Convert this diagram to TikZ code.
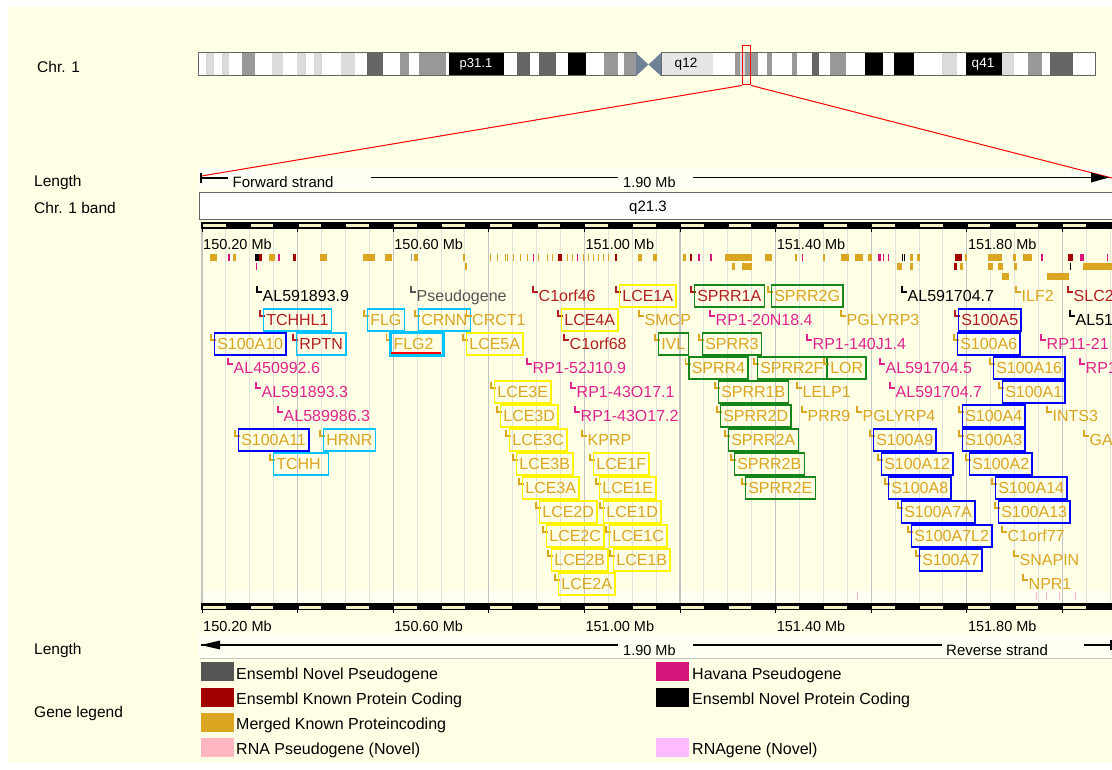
\documentclass[tikz,border=0pt]{standalone}
\usepackage{fontspec}
\setmainfont{Liberation Sans}
\usetikzlibrary{calc}
\definecolor{bgy}{HTML}{FFFFE6}
\definecolor{bgl}{HTML}{FFFFF3}
\definecolor{cgold}{HTML}{DAA520}
\definecolor{cdred}{HTML}{A00000}
\definecolor{cmag}{HTML}{D6157B}
\definecolor{tgold}{HTML}{DAA520}
\definecolor{tred}{HTML}{B01E1E}
\definecolor{tmag}{HTML}{E0248C}
\definecolor{tgray}{HTML}{555555}
\definecolor{boxblue}{HTML}{0000FF}
\definecolor{boxcyan}{HTML}{00C4FF}
\definecolor{boxyel}{HTML}{FFF500}
\definecolor{boxgrn}{HTML}{16861A}
\definecolor{cream}{HTML}{F6F0C6}
\definecolor{lgr}{HTML}{DCDCDC}
\definecolor{lgq}{HTML}{E6E6E6}
\definecolor{gr}{HTML}{999999}
\definecolor{dgr}{HTML}{666666}
\definecolor{slate}{HTML}{6E8196}
\definecolor{cpink}{HTML}{FFB6C1}
\definecolor{clav}{HTML}{FFBBFF}
\definecolor{cnov}{HTML}{555555}
\definecolor{gminor}{HTML}{E2E2DA}
\definecolor{gmajor}{HTML}{C4C4C4}
\newcommand\myfs[1]{\fontsize{#1}{#1}\selectfont}
\newcommand\gn[6]{%
  \pgfmathsetmacro\gy{296+24*#3}%
  \draw[#5, line width=1.2pt] (#2,\gy-10) -- (#2,\gy-4) -- (#2+5,\gy-4);%
  \node[glab, text=#5, #6] (#1) at (#2+2.5,\gy) {#4};%
}
\newcommand\ft[4]{\fill[#4] (#1,{254+9.5*#3}) rectangle (#2,{261+9.5*#3});}
\begin{document}
\begin{tikzpicture}[x=1pt,y=-1pt,
  glab/.style={anchor=west, inner xsep=3pt, inner ysep=0pt, text height=11pt, text depth=0pt, minimum height=22pt, font=\myfs{16}},
  bxb/.style={draw=boxblue, line width=1.5pt},
  bxc/.style={draw=boxcyan, line width=1.5pt},
  bxy/.style={draw=boxyel, line width=1.7pt},
  bxg/.style={draw=boxgrn, line width=1.5pt},
  lbl/.style={anchor=base west, inner sep=0pt, font=\myfs{15.5}},
  rul/.style={anchor=base west, inner sep=0pt, font=\myfs{14.5}},
  leg/.style={anchor=base west, inner sep=0pt, font=\myfs{16}},
  sw/.style={anchor=north west, inner sep=0pt, minimum width=33pt, minimum height=19pt}]
\useasboundingbox (0,0) rectangle (1112,770);
\clip (0,0) rectangle (1112,770);
% backgrounds
\fill[white] (0,0) rectangle (1112,770);
\fill[bgy] (8,7) rectangle (1112,763);
\fill[bgl] (198,168) rectangle (1112,191);
\fill[bgl] (198,633) rectangle (1112,658);
\fill[bgl] (202,591) rectangle (1112,602);
% chromosome ideogram
\foreach \xa/\xb/\xc in {198/206/white,206/214/lgr,214/222/white,222/229/lgr,229/242/white,242/255/gr,255/272/white,272/283/lgr,283/297/white,297/306/lgr,306/314/white,314/322/lgr,322/341/white,341/355/lgr,355/367/white,367/383/dgr,383/400/white,400/409/gr,409/419/white,419/446/gr,446/449/white,449/504/black,504/517/white,517/530/dgr,530/539/white,539/556/dgr,556/568/white,568/586/black,586/604/white,604/618/gr,618/624/white,624/636/gr,
661/713/lgq,713/735/white,735/740/gr,740/745/lgr,745/758/gr,758/767/white,767/772/gr,772/792/white,792/797/gr,797/812/white,812/819/dgr,819/830/white,830/846/gr,846/865/white,865/883/black,883/894/white,894/914/black,914/942/white,942/957/lgr,957/966/white,966/1002/black,1002/1014/lgr,1014/1028/white,1028/1042/gr,1042/1050/white,1050/1073/dgr,1073/1095/white}
  {\fill[\xc] (\xa,53) rectangle (\xb,76);}
\draw[dgr, line width=1pt] (198,53) rectangle (636,76);
\draw[dgr, line width=1pt] (661,53) rectangle (1095,76);
\fill[slate] (636,53) -- (648.5,64.5) -- (661,53) -- (661,76) -- (648.5,64.5) -- (636,76) -- cycle;
\node[white, font=\myfs{13}, inner sep=0pt] (p311) at (476,64.5) {p31.1};
\node[black, font=\myfs{13.5}, inner sep=0pt] (q12) at (686,64.5) {q12};
\node[white, font=\myfs{13.5}, inner sep=0pt] (q41) at (983,64.5) {q41};
\node[draw=red, line width=1pt, minimum width=8.5pt, minimum height=39pt, inner sep=0pt] (sel) at (746.5,65.5) {};
\coordinate (lenL) at (201.5,176);
\coordinate (lenR) at (1112,178);
\draw[red, line width=1pt] (sel.south west) -- (lenL);
\draw[red, line width=1pt] (sel.south east) -- (lenR);
% left labels
\node[lbl] (lchr) at (37,73) {Chr. 1};
\node[lbl] (llen) at (34,187) {Length};
\node[lbl] (lband) at (34,214) {Chr. 1 band};
\node[lbl] (llen2) at (34,654) {Length};
\node[lbl] (lleg) at (34,717) {Gene legend};
% top length bar
\draw[line width=1.2pt] (201,173) -- (201,183);
\draw[line width=1.2pt] (201,178) -- (228,178);
\node[anchor=base west, inner sep=0pt, font=\myfs{15}] (fwd) at (232.5,188) {Forward strand};
\draw[line width=1.2pt] (371,177.5) -- (618,177.5);
\node[anchor=base west, inner sep=0pt, font=\myfs{14.5}] (len1) at (623,188) {1.90 Mb};
\draw[line width=1.2pt] (693,177.5) -- (1094,177.5);
\fill (1091,172.5) -- (1109,177.5) -- (1091,182.5) -- cycle;
% band box
\node[draw=dgr, line width=1pt, fill=white, anchor=north west, minimum width=913pt, minimum height=27pt, inner sep=0pt] (band) at (199,192) {};
\node[font=\myfs{15}, inner sep=0pt] (q213) at (648,208) {q21.3};
% grid lines
\foreach \i in {0,...,38} {\draw[gminor, line width=1pt] ({202+\i*23.9},229) -- ({202+\i*23.9},603);}
\foreach \i in {0,4,...,36} {\draw[gmajor, line width=1.1pt] ({202+\i*23.9},229) -- ({202+\i*23.9},603);}
% top ruler
\fill[black] (201,222) rectangle (1112,229);
\foreach \i in {0,2,...,36} {\fill[cream] ({202+\i*23.9+1},223.6) rectangle ({202+(\i+1)*23.9-0.3},226.8);}
\foreach \i in {0,4,...,36} {\draw[line width=1pt] ({202+\i*23.9},229) -- ({202+\i*23.9},232);}
% bottom ruler
\draw[line width=0.8pt] (201,603.4) -- (1112,603.4);
\fill[black] (201,604) rectangle (1112,610);
\foreach \i in {0,2,...,36} {\fill[cream] ({202+\i*23.9+1},605.5) rectangle ({202+(\i+1)*23.9-0.3},608.5);}
\foreach \i in {0,4,...,36} {\draw[line width=1pt] ({202+\i*23.9},610) -- ({202+\i*23.9},613);}
% ruler labels
\foreach \k/\t in {0/150.20,1/150.60,2/151.00,3/151.40,4/151.80} {
  \node[rul] (rt\k) at ({203+\k*191.2},250) {\t\ Mb};
  \node[rul] (rb\k) at ({203+\k*191.2},631) {\t\ Mb};
}
% features row 0
\foreach \xa/\xb in {210/217,233/236,269/275,320/327,363/375,385/392,414/418,463/465,490/491,497/498,505/506,507/508,513/514,520/521,527/528,538/539,547/548,552/553,567/568,572/573,583/584,588/589,593/594,598/599,603/604,608/609,638/642,653/657,683/686,725/752,765/772,795/797,823/825,841/849,855/863,868/872,910/913,917/920,965/967,988/1002,1013/1016,1023/1032} {\ft{\xa}{\xb}{0}{cgold}}
\foreach \xa/\xb in {228/230,278/280,533/534,577/578,698/700,710/712,802/803,878/881,883/884,888/889,1041/1043,1080/1084,1107/1108} {\ft{\xa}{\xb}{0}{cmag}}
\foreach \xa/\xb in {259/262,293/296,558/562,615/617,690/692,955/962,1068/1073} {\ft{\xa}{\xb}{0}{cdred}}
\foreach \xa/\xb in {255/259,902/903,904/905} {\ft{\xa}{\xb}{0}{black}}
\ft{411}{412}{0}{gr}
% features row 1
\foreach \xa/\xb in {465/467,732/735,742/752,897/902,910/913,960/963,988/993,998/1003,1014/1017,1083/1112} {\ft{\xa}{\xb}{1}{cgold}}
\ft{256}{257}{1}{cmag}
\ft{954}{957}{1}{cdred}
\ft{1070}{1071}{1}{black}
% features row 2
\foreach \xa/\xb in {1002/1009,1047/1069} {\ft{\xa}{\xb}{2}{cgold}}
% small pink marks
\foreach \xa in {857,1036,1046,1059,1075} {\fill[cpink] (\xa,592) rectangle (\xa+1,600);}
% genes
\gn{al5918939}{257}{0}{AL591893.9}{black}{}
\gn{pseudo}{411}{0}{Pseudogene}{tgray}{}
\gn{c1orf46}{533}{0}{C1orf46}{tred}{}
\gn{lce1a}{616}{0}{LCE1A}{tred}{bxy}
\gn{sprr1a}{691}{0}{SPRR1A}{tred}{bxg}
\gn{sprr2g}{768}{0}{SPRR2G}{tgold}{bxg}
\gn{al5917047}{902}{0}{AL591704.7}{black}{}
\gn{ilf2}{1016}{0}{ILF2}{tgold}{}
\gn{slc2}{1068}{0}{SLC2}{tred}{}
\gn{tchhl1}{260}{1}{TCHHL1}{tred}{bxc}
\gn{flg}{364}{1}{FLG}{tgold}{bxc}
\gn{crnn}{415}{1}{CRNN}{tgold}{bxc}
\gn{crct1}{466.5}{1}{CRCT1}{tgold}{}
\gn{lce4a}{558}{1}{LCE4A}{tred}{bxy}
\gn{smcp}{639}{1}{SMCP}{tgold}{}
\gn{rp120n184}{710}{1}{RP1-20N18.4}{tmag}{}
\gn{pglyrp3}{841}{1}{PGLYRP3}{tgold}{}
\gn{s100a5}{955}{1}{S100A5}{tred}{bxb}
\gn{al51}{1070}{1}{AL51}{black}{}
\gn{s100a10}{211}{2}{S100A10}{tgold}{bxb}
\gn{rptn}{293}{2}{RPTN}{tred}{bxc}
\gn{flg2}{386.5}{2}{FLG2\kern7pt}{tgold}{bxc, line width=3pt}
\draw[red, line width=1.3pt] ($(flg2.south west)+(2,-3.5)$) -- ($(flg2.south east)+(-4,-3.5)$);
\gn{lce5a}{463}{2}{LCE5A}{tgold}{bxy}
\gn{c1orf68}{564}{2}{C1orf68}{tred}{}
\gn{ivl}{655}{2}{IVL}{tgold}{bxg}
\gn{sprr3}{699}{2}{SPRR3}{tgold}{bxg}
\gn{rp1140j14}{807}{2}{RP1-140J1.4}{tmag}{}
\gn{s100a6}{954}{2}{S100A6}{tgold}{bxb}
\gn{rp1121}{1041}{2}{RP11-21}{tmag}{}
\gn{al4509926}{228}{3}{AL450992.6}{tmag}{}
\gn{rp152j109}{527}{3}{RP1-52J10.9}{tmag}{}
\gn{sprr4}{685.5}{3}{SPRR4}{tgold}{bxg}
\gn{sprr2f}{754}{3}{SPRR2F}{tgold}{bxg}
\gn{lor}{824}{3}{LOR}{tgold}{bxg}
\gn{al5917045}{880}{3}{AL591704.5}{tmag}{}
\gn{s100a16}{990}{3}{S100A16}{tgold}{bxb}
\gn{rp1x}{1080}{3}{RP1}{tmag}{}
\gn{al5918933}{256}{4}{AL591893.3}{tmag}{}
\gn{lce3e}{491}{4}{LCE3E}{tgold}{bxy}
\gn{rp143o171}{571}{4}{RP1-43O17.1}{tmag}{}
\gn{sprr1b}{715}{4}{SPRR1B}{tgold}{bxg}
\gn{lelp1}{797}{4}{LELP1}{tgold}{}
\gn{al5917047b}{890}{4}{AL591704.7}{tmag}{}
\gn{s100a1}{999}{4}{S100A1}{tgold}{bxb}
\gn{al5899863}{278}{5}{AL589986.3}{tmag}{}
\gn{lce3d}{497}{5}{LCE3D}{tgold}{bxy}
\gn{rp143o172}{575}{5}{RP1-43O17.2}{tmag}{}
\gn{sprr2d}{717}{5}{SPRR2D}{tgold}{bxg}
\gn{prr9}{802}{5}{PRR9}{tgold}{}
\gn{pglyrp4}{857}{5}{PGLYRP4}{tgold}{}
\gn{s100a4}{959}{5}{S100A4}{tgold}{bxb}
\gn{ints3}{1047}{5}{INTS3}{tgold}{}
\gn{s100a11}{235}{6}{S100A11}{tgold}{bxb}
\gn{hrnr}{320}{6}{HRNR}{tgold}{bxc}
\gn{lce3c}{506}{6}{LCE3C}{tgold}{bxy}
\gn{kprp}{582}{6}{KPRP}{tgold}{}
\gn{sprr2a}{725}{6}{SPRR2A}{tgold}{bxg}
\gn{s100a9}{870}{6}{S100A9}{tgold}{bxb}
\gn{s100a3}{959}{6}{S100A3}{tgold}{bxb}
\gn{ga}{1084}{6}{GA}{tgold}{}
\gn{tchh}{270}{7}{TCHH\kern5pt}{tgold}{bxc}
\gn{lce3b}{513}{7}{LCE3B}{tgold}{bxy}
\gn{lce1f}{590}{7}{LCE1F}{tgold}{bxy}
\gn{sprr2b}{731}{7}{SPRR2B}{tgold}{bxg}
\gn{s100a12}{878}{7}{S100A12}{tgold}{bxb}
\gn{s100a2}{966}{7}{S100A2}{tgold}{bxb}
\gn{lce3a}{519}{8}{LCE3A}{tgold}{bxy}
\gn{lce1e}{596}{8}{LCE1E}{tgold}{bxy}
\gn{sprr2e}{742}{8}{SPRR2E}{tgold}{bxg}
\gn{s100a8}{885}{8}{S100A8}{tgold}{bxb}
\gn{s100a14}{992}{8}{S100A14}{tgold}{bxb}
\gn{lce2d}{536}{9}{LCE2D}{tgold}{bxy}
\gn{lce1d}{600}{9}{LCE1D}{tgold}{bxy}
\gn{s100a7a}{898}{9}{S100A7A}{tgold}{bxb}
\gn{s100a13}{995}{9}{S100A13}{tgold}{bxb}
\gn{lce2c}{543}{10}{LCE2C}{tgold}{bxy}
\gn{lce1c}{606}{10}{LCE1C}{tgold}{bxy}
\gn{s100a7l2}{908}{10}{S100A7L2}{tgold}{bxb}
\gn{c1orf77}{1002}{10}{C1orf77}{tgold}{}
\gn{lce2b}{548}{11}{LCE2B}{tgold}{bxy}
\gn{lce1b}{610}{11}{LCE1B}{tgold}{bxy}
\gn{s100a7}{916}{11}{S100A7}{tgold}{bxb}
\gn{snapin}{1014}{11}{SNAPIN}{tgold}{}
\gn{lce2a}{555}{12}{LCE2A}{tgold}{bxy}
\gn{npr1}{1023}{12}{NPR1}{tgold}{}
% bottom length bar
\fill (201,645) -- (220,640.5) -- (220,649.5) -- cycle;
\draw[line width=1.2pt] (201,645) -- (618,645);
\node[anchor=base west, inner sep=0pt, font=\myfs{14.5}] (len2) at (623,655) {1.90 Mb};
\draw[line width=1.2pt] (693,645) -- (942,645);
\node[anchor=base west, inner sep=0pt, font=\myfs{15}] (rev) at (946,655) {Reverse strand};
\draw[line width=1.2pt] (1084,645) -- (1111,645);
\draw[line width=1.2pt] (1111,640) -- (1111,650);
\draw[gmajor, line width=1pt] (200,658) -- (1112,658);
% legend
\node[sw, fill=cnov] (swa) at (201,662) {};
\node[sw, fill=cdred] (swb) at (201,688) {};
\node[sw, fill=cgold] (swc) at (201,713) {};
\node[sw, fill=cpink] (swd) at (201,738) {};
\node[sw, fill=cmag] (swe) at (656,662) {};
\node[sw, fill=black] (swf) at (656,688) {};
\node[sw, fill=clav] (swg) at (656,738) {};
\node[leg] (lga) at (236,679) {Ensembl Novel Pseudogene};
\node[leg] (lgb) at (236,704) {Ensembl Known Protein Coding};
\node[leg] (lgc) at (236,729) {Merged Known Proteincoding};
\node[leg] (lgd) at (236,754) {RNA Pseudogene (Novel)};
\node[leg] (lge) at (692,679) {Havana Pseudogene};
\node[leg] (lgf) at (692,704) {Ensembl Novel Protein Coding};
\node[leg] (lgg) at (692,754) {RNAgene (Novel)};
\end{tikzpicture}
\end{document}
